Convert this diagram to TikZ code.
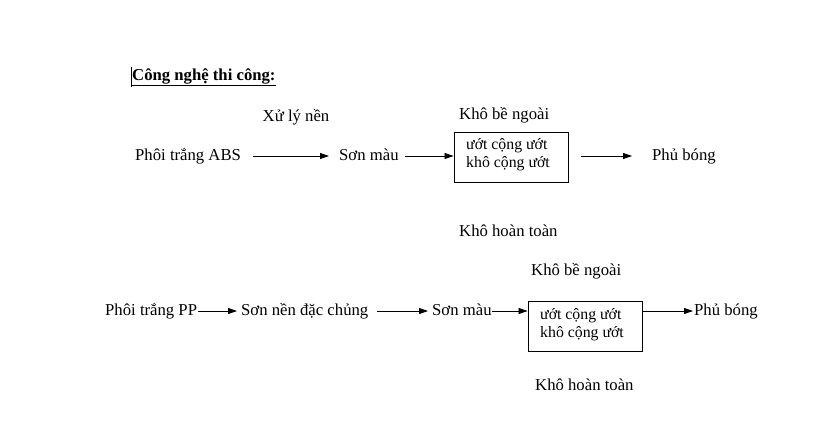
\documentclass[tikz,border=0pt]{standalone}
\usepackage{fontspec}
\setmainfont{Liberation Serif}
\usetikzlibrary{arrows.meta}
\begin{document}
\begin{tikzpicture}[x=1pt,y=-1pt,
  lbl/.style={inner sep=0pt,text height=12pt,text depth=3.5pt,font=\fontsize{16.7}{20}\selectfont},
  boxt/.style={draw,line width=0.9pt,minimum width=114pt,minimum height=50pt,inner sep=0pt},
  boxtxt/.style={anchor=west,inner sep=0pt,align=left,font=\fontsize{15.8}{18}\selectfont},
  arr/.style={line width=0.8pt,-{Triangle[length=9pt,width=6pt]}}]
\useasboundingbox[fill=white] (0,0) rectangle (820,445);
% title
\node[lbl,anchor=west,font=\bfseries\fontsize{16.7}{20}\selectfont] (title) at (132,76) {\underline{Công nghệ thi công:}};
\draw[line width=0.6pt] (131,67) -- (131,87);
% row 1
\node[lbl] (xl) at (296,117) {Xử lý nền};
\node[lbl,anchor=west] (a1) at (135,156) {Phôi trắng ABS};
\node[lbl,anchor=west] (a2) at (339,156) {Sơn màu};
\node[boxt] (b1) at (511,157) {};
\node[boxtxt] (b1t) at (466,155) {ướt cộng ướt\\khô cộng ướt};
\node[lbl,anchor=west] (k1) at (459,115) {Khô bề ngoài};
\node[lbl,anchor=west] (h1) at (459,232) {Khô hoàn toàn};
\node[lbl,anchor=west] (p1) at (652,156) {Phủ bóng};
\draw[arr,shorten <=12pt,shorten >=10pt] (a1.east) -- (a2.west);
\draw[arr,shorten <=6pt] (a2.east) -- (b1.west |- a2.east);
\draw[arr,shorten <=13pt,shorten >=20pt] (b1.east |- p1.west) -- (p1.west);
% row 2
\node[lbl,anchor=west] (c1) at (105,311) {Phôi trắng PP};
\node[lbl,anchor=west] (c2) at (241,311) {Sơn nền đặc chủng};
\node[lbl,anchor=west] (c3) at (432,311) {Sơn màu};
\node[boxt] (b2) at (585,326) {};
\node[boxtxt] (b2t) at (540,325) {ướt cộng ướt\\khô cộng ướt};
\node[lbl,anchor=west] (k2) at (531,271) {Khô bề ngoài};
\node[lbl,anchor=west] (h2) at (535,386) {Khô hoàn toàn};
\node[lbl,anchor=west] (p2) at (694,311) {Phủ bóng};
\draw[arr,shorten <=1pt,shorten >=4pt] (c1.east) -- (c2.west);
\draw[arr,shorten <=9pt,shorten >=4pt] (c2.east) -- (c3.west);
\draw[arr] (c3.east) -- (b2.west |- c3.east);
\draw[arr,shorten >=1pt] (b2.east |- p2.west) -- (p2.west);
\end{tikzpicture}
\end{document}
